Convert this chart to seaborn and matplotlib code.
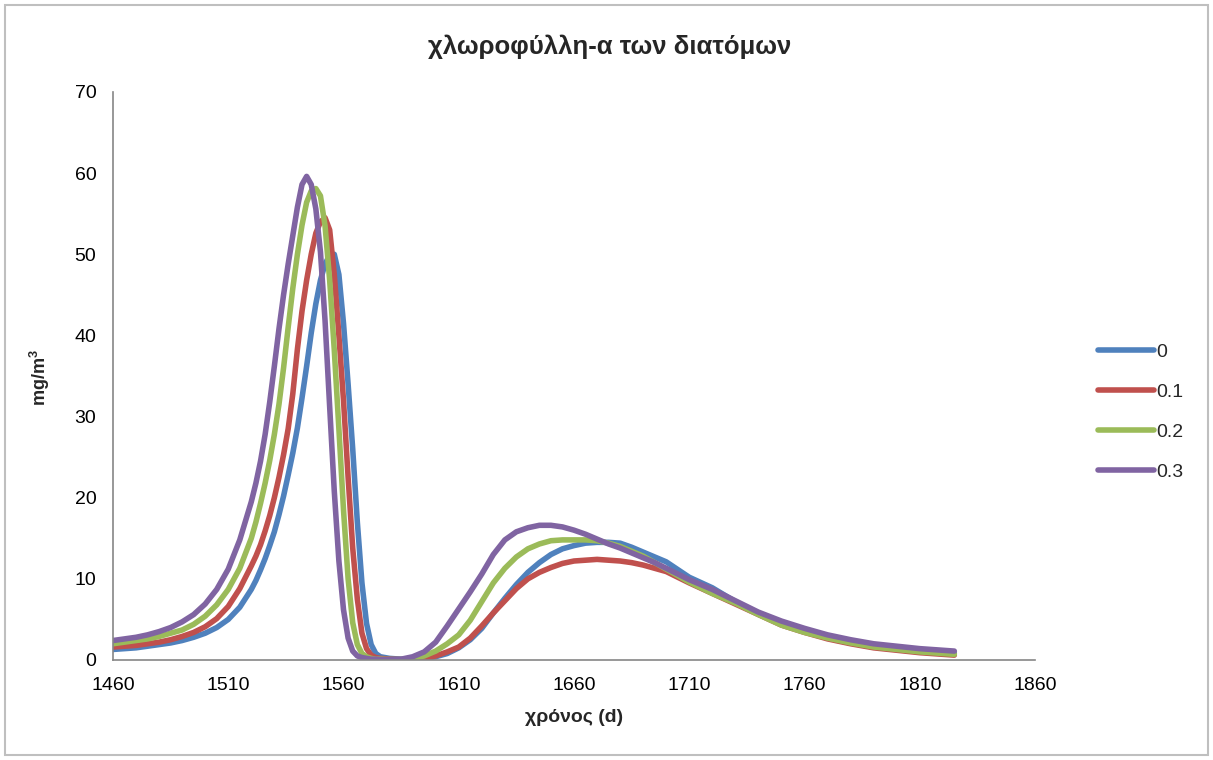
import matplotlib
matplotlib.use("Agg")
import matplotlib.pyplot as plt
import seaborn as sb
import pandas as pd
from matplotlib.patches import Rectangle

# time axis (days), denser around the spring peak
days = [1460, 1465, 1470, 1475, 1480, 1485, 1490, 1495, 1500, 1505, 1510, 1515, 1520,
        1522, 1524, 1526, 1528, 1530, 1532, 1534, 1536, 1538, 1540, 1542, 1544,
        1546, 1548, 1550, 1552, 1554, 1556, 1558, 1560, 1562, 1564, 1566, 1568,
        1570, 1572, 1574, 1576,
        1580, 1585, 1590, 1595, 1600, 1605, 1610, 1615, 1620, 1625, 1630, 1635,
        1640, 1645, 1650, 1655, 1660, 1665, 1670, 1675, 1680, 1685, 1690, 1695,
        1700, 1710, 1720, 1730, 1740, 1750, 1760, 1770, 1780, 1790, 1800, 1810,
        1820, 1825]

chl_0 = [1.3, 1.4, 1.5, 1.7, 1.9, 2.1, 2.4, 2.8, 3.3, 4.0, 5.0, 6.5, 8.7,
         9.8, 11.1, 12.5, 14.1, 15.8, 17.9, 20.2, 22.8, 25.5, 28.6, 32.3, 36.2,
         40.3, 43.9, 46.8, 48.8, 49.9, 50.0, 47.5, 41.5, 34.0, 26.0, 17.0, 9.5,
         4.5, 1.9, 0.8, 0.4,
         0.2, 0.1, 0.1, 0.2, 0.4, 0.8, 1.5, 2.5, 3.9, 5.8, 7.6, 9.3,
         10.8, 12.0, 13.0, 13.7, 14.1, 14.4, 14.5, 14.5, 14.4, 13.9, 13.3, 12.7,
         12.1, 10.2, 8.9, 7.2, 5.7, 4.4, 3.5, 2.7, 2.1, 1.6, 1.3, 1.0,
         0.8, 0.8]

chl_01 = [1.6, 1.7, 1.8, 2.0, 2.2, 2.5, 2.9, 3.4, 4.1, 5.1, 6.6, 8.8, 11.6,
          12.8, 14.2, 15.9, 17.8, 20.0, 22.5, 25.3, 28.5, 32.8, 38.3, 43.0, 46.8,
          50.0, 52.6, 54.0, 54.5, 53.0, 47.5, 40.0, 32.0, 22.5, 13.8, 7.5, 3.3,
          1.4, 0.6, 0.3, 0.2,
          0.1, 0.05, 0.05, 0.2, 0.5, 1.0, 1.6, 2.7, 4.2, 5.8, 7.3, 8.8,
          10.0, 10.8, 11.4, 11.9, 12.2, 12.3, 12.4, 12.3, 12.2, 12.0, 11.7, 11.3,
          10.9, 9.5, 8.2, 6.9, 5.6, 4.3, 3.4, 2.6, 2.0, 1.5, 1.2, 0.9,
          0.7, 0.6]

chl_02 = [2.0, 2.2, 2.4, 2.6, 2.9, 3.3, 3.7, 4.4, 5.4, 6.8, 8.7, 11.3, 15.0,
          17.0, 19.3, 21.8, 24.6, 27.8, 31.5, 36.0, 41.0, 45.8, 50.0, 53.6, 56.4,
          57.8, 58.1, 57.2, 53.5, 46.8, 38.2, 28.5, 18.5, 10.0, 4.6, 1.9, 0.8,
          0.4, 0.2, 0.1, 0.1,
          0.05, 0.05, 0.2, 0.5, 1.1, 2.0, 3.1, 4.9, 7.2, 9.5, 11.3, 12.7,
          13.7, 14.3, 14.7, 14.8, 14.8, 14.8, 14.7, 14.4, 14.0, 13.4, 12.8, 12.0,
          11.2, 9.6, 8.2, 7.0, 5.6, 4.3, 3.4, 2.7, 2.1, 1.6, 1.3, 1.0,
          0.8, 0.7]

chl_03 = [2.4, 2.6, 2.8, 3.1, 3.5, 4.0, 4.7, 5.6, 6.9, 8.7, 11.2, 14.8, 19.5,
          21.8, 24.5, 27.8, 31.8, 36.2, 40.8, 45.0, 48.8, 52.3, 55.8, 58.6, 59.6,
          58.6, 55.6, 50.3, 41.8, 31.2, 20.8, 12.2, 6.2, 2.7, 1.1, 0.5, 0.3,
          0.2, 0.1, 0.1, 0.05,
          0.05, 0.1, 0.4, 1.0, 2.2, 4.2, 6.3, 8.4, 10.6, 13.0, 14.8, 15.8,
          16.3, 16.6, 16.6, 16.4, 16.0, 15.5, 14.9, 14.3, 13.8, 13.2, 12.6, 12.0,
          11.3, 9.9, 8.7, 7.3, 5.9, 4.8, 3.9, 3.1, 2.5, 2.0, 1.7, 1.4,
          1.2, 1.1]

labels = ['0', '0.1', '0.2', '0.3']
colors = ['#4F81BD', '#C0504D', '#9BBB59', '#8064A2']

sb.set_style('white')
plt.rcParams['font.family'] = ['Liberation Sans', 'DejaVu Sans']

frames = []
for lab, vals in zip(labels, [chl_0, chl_01, chl_02, chl_03]):
    frames.append(pd.DataFrame({'t': days, 'chl': vals, 'case': lab}))
df = pd.concat(frames, ignore_index=True)

fig = plt.figure(figsize=(12.13, 7.6), dpi=100)
ax = fig.add_axes([113/1213, 1 - 660/760, (1035 - 113)/1213, (660 - 92)/760])

sb.lineplot(data=df, x='t', y='chl', hue='case', palette=colors,
            linewidth=4.0, ax=ax, sort=False, solid_joinstyle='round',
            solid_capstyle='round')

ax.set_xlim(1460, 1860)
ax.set_ylim(0, 70)
ax.set_xticks(range(1460, 1861, 50))
ax.set_yticks(range(0, 71, 10))
ax.tick_params(axis='both', labelsize=14, colors='#868686', labelcolor='black',
               length=4, width=1)
ax.tick_params(axis='x', pad=8)
ax.tick_params(axis='y', pad=8)
for s in ['top', 'right']:
    ax.spines[s].set_visible(False)
for s in ['left', 'bottom']:
    ax.spines[s].set_color('#868686')
    ax.spines[s].set_linewidth(1.2)

ax.set_xlabel('')
ax.set_ylabel('')
fig.text(574/1213, 1 - 718/760, 'χρόνος (d)', ha='center', va='center',
         fontsize=14, fontweight='bold')
fig.text(40/1213, 1 - 378/760, 'mg/m$^\\mathregular{3}$', ha='center', va='center',
         rotation=90, fontsize=13, fontweight='bold')
fig.text(610/1213, 1 - 47/760, 'χλωροφύλλη-α των διατόμων', ha='center', va='center',
         fontsize=18.5, fontweight='bold')

ax.get_legend().remove()
handles, _ = ax.get_legend_handles_labels()
fig.legend(handles, labels, loc='center left', bbox_to_anchor=(1098/1213, 1 - 412/760),
           frameon=False, fontsize=14, handlelength=2.9, handletextpad=0.1,
           labelspacing=1.15, borderpad=0, borderaxespad=0)

# outer chart frame
fig.patches.append(Rectangle((5/1213, 5/760), 1 - 10/1213, 1 - 10/760,
                             transform=fig.transFigure, fill=False,
                             edgecolor='#bfbfbf', linewidth=1.5))

fig.savefig('out.png', dpi=100)
